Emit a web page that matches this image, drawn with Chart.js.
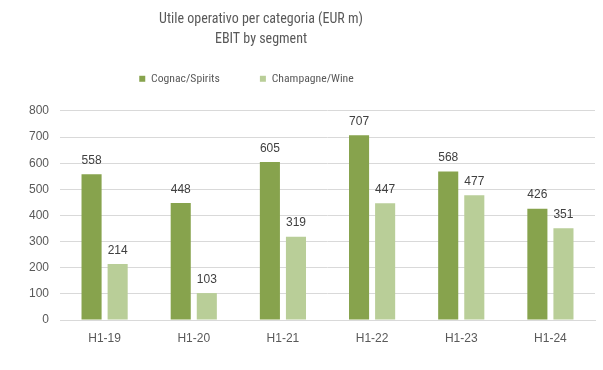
<!DOCTYPE html>
<html><head><meta charset="utf-8">
<script src="https://cdn.jsdelivr.net/npm/chart.js@4"></script>
<style>html,body{margin:0;padding:0;background:#fff}#wrap{width:603px;height:370px;position:relative}</style>
</head><body>
<div id="wrap"><canvas id="c" width="603" height="370"></canvas></div>
<script>
const categories = ["H1-19","H1-20","H1-21","H1-22","H1-23","H1-24"];
const cognacSpirits = [558,448,605,707,568,426];
const champagneWine = [214,103,319,447,477,351];
const seriesNames = ["Cognac/Spirits","Champagne/Wine"];
const titleLines = ["Utile operativo per categoria (EUR m)","EBIT by segment"];
const yTicks = {min:0,max:800,step:100};

const TFONT = "'Roboto Condensed','DejaVu Sans Condensed',sans-serif";
const NFONT = "'Liberation Sans',Arial,sans-serif";

const labelPlugin = {
  id:'labels',
  afterDatasetsDraw(chart){
    const ctx = chart.ctx;
    ctx.save();
    ctx.font = "12px " + NFONT;
    ctx.fillStyle = "#404040";
    ctx.textAlign = "center";
    ctx.textBaseline = "middle";
    chart.data.datasets.forEach((ds,i)=>{
      chart.getDatasetMeta(i).data.forEach((bar,j)=>{
        ctx.fillText(String(ds.data[j]), bar.x, bar.y - 13.5);
      });
    });
    ctx.restore();
  }
};

const layoutPlugin = {
  id:'layoutTweak',
  beforeLayout(chart){
    const lg = chart.legend;
    if (lg && !lg._patched){
      const orig = lg.fit;
      lg.fit = function(){ orig.call(this); this.height = 78; };
      lg._patched = true;
    }
  },
  afterLayout(chart){
    const t = chart.titleBlock, lg = chart.legend;
    if (t){ t.left -= 45.5; t.right -= 45.5; }
    if (lg){ lg.left -= 60; lg.right -= 60; }
  }
};

new Chart(document.getElementById('c'),{
  type:'bar',
  data:{
    labels:categories,
    datasets:[
      {label:seriesNames[0],data:cognacSpirits,backgroundColor:'#87A34D'},
      {label:seriesNames[1],data:champagneWine,backgroundColor:'#B9CE98'}
    ]
  },
  options:{
    responsive:false,
    animation:false,
    devicePixelRatio:1,
    layout:{padding:{left:18,right:8,top:0,bottom:13.6}},
    categoryPercentage:0.585,
    barPercentage:0.77,
    plugins:{
      title:{display:true,text:titleLines,color:'#595959',font:{family:TFONT,size:14,weight:'normal',lineHeight:1.39},padding:{top:10,bottom:-16}},
      legend:{position:'top',labels:{color:'#595959',font:{family:TFONT,size:11.7},boxWidth:6,boxHeight:6,padding:40}},
      tooltip:{enabled:false}
    },
    scales:{
      x:{grid:{display:false,drawTicks:false},border:{color:'#d9d9d9'},ticks:{color:'#595959',font:{family:NFONT,size:12},padding:11}},
      y:{min:yTicks.min,max:yTicks.max,ticks:{stepSize:yTicks.step,color:'#595959',font:{family:NFONT,size:12},padding:11},grid:{color:'#d9d9d9',drawTicks:false},border:{display:false}}
    }
  },
  plugins:[labelPlugin,layoutPlugin]
});
</script>
</body></html>
